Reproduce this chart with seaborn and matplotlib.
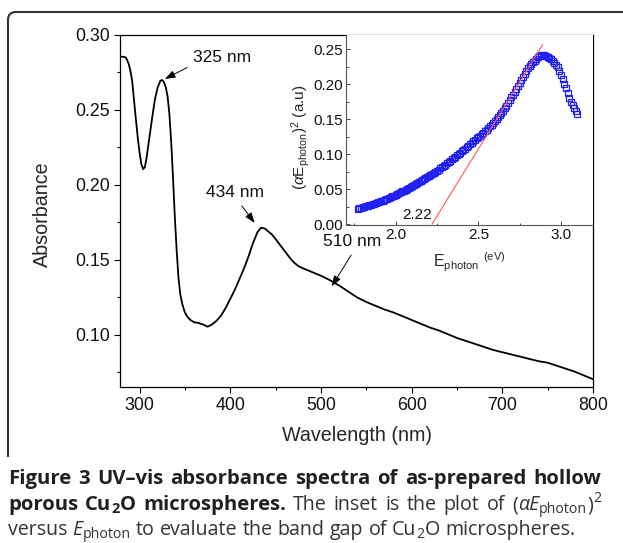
import matplotlib
matplotlib.use("Agg")
import matplotlib.pyplot as plt
import seaborn as sns
from matplotlib.path import Path
from matplotlib.patches import PathPatch
from matplotlib.ticker import MultipleLocator, FormatStrFormatter

# main UV-vis spectrum
wavelength = [278, 282, 285, 288, 290, 292, 295, 298, 300, 302, 304, 306, 308, 311, 314,
              317, 320, 323, 325, 327, 329, 331, 333, 335, 337, 339, 341, 343, 345, 347,
              350, 353, 356, 360, 365, 370, 375, 380, 385, 390, 395, 400, 405, 410, 415,
              420, 425, 430, 434, 438, 442, 446, 450, 455, 460, 465, 470, 475, 480, 490,
              500, 510, 520, 530, 540, 550, 560, 570, 580, 590, 600, 610, 620, 630, 640,
              650, 660, 670, 680, 690, 700, 710, 720, 730, 740, 750, 760, 770, 780, 790, 800]
absorbance = [0.2855, 0.2855, 0.2850, 0.2810, 0.2760, 0.2690, 0.2500, 0.2320, 0.2220, 0.2140,
              0.2105, 0.2120, 0.2190, 0.2320, 0.2450, 0.2570, 0.2650, 0.2695, 0.2700, 0.2685,
              0.2650, 0.2590, 0.2470, 0.2280, 0.2040, 0.1780, 0.1560, 0.1380, 0.1270, 0.1210,
              0.1150, 0.1120, 0.1100, 0.1085, 0.1080, 0.1070, 0.1055, 0.1070, 0.1095, 0.1130,
              0.1180, 0.1240, 0.1300, 0.1370, 0.1440, 0.1520, 0.1610, 0.1685, 0.1715, 0.1710,
              0.1690, 0.1670, 0.1640, 0.1600, 0.1560, 0.1520, 0.1485, 0.1460, 0.1445, 0.1420,
              0.1395, 0.1365, 0.1330, 0.1290, 0.1250, 0.1220, 0.1195, 0.1170, 0.1150, 0.1125,
              0.1100, 0.1075, 0.1050, 0.1030, 0.1005, 0.0980, 0.0960, 0.0940, 0.0920, 0.0900,
              0.0885, 0.0870, 0.0855, 0.0840, 0.0825, 0.0815, 0.0795, 0.0775, 0.0755, 0.0730,
              0.0705]

# inset: (alpha*E)^2 vs photon energy, 1.77 ... 3.10 eV in 0.01 eV steps
e_photon = [round(1.77 + 0.01 * i, 2) for i in range(134)]
ae_squared = [
    0.0220, 0.0225, 0.0230, 0.0238, 0.0245, 0.0252, 0.0260, 0.0268, 0.0276, 0.0284,  # 1.77-1.86
    0.0292, 0.0300, 0.0309, 0.0318, 0.0327, 0.0336, 0.0345, 0.0355, 0.0365, 0.0375,  # 1.87-1.96
    0.0386, 0.0397, 0.0408, 0.0419, 0.0430, 0.0442, 0.0454, 0.0466, 0.0478, 0.0490,  # 1.97-2.06
    0.0503, 0.0516, 0.0529, 0.0542, 0.0555, 0.0569, 0.0583, 0.0597, 0.0611, 0.0625,  # 2.07-2.16
    0.0640, 0.0655, 0.0670, 0.0685, 0.0700, 0.0715, 0.0731, 0.0747, 0.0763, 0.0780,  # 2.17-2.26
    0.0797, 0.0814, 0.0832, 0.0850, 0.0868, 0.0887, 0.0906, 0.0925, 0.0944, 0.0963,  # 2.27-2.36
    0.0982, 0.1001, 0.1020, 0.1040, 0.1060, 0.1080, 0.1100, 0.1120, 0.1140, 0.1161,  # 2.37-2.46
    0.1182, 0.1203, 0.1224, 0.1245, 0.1266, 0.1287, 0.1308, 0.1330, 0.1352, 0.1375,  # 2.47-2.56
    0.1398, 0.1422, 0.1447, 0.1473, 0.1500, 0.1528, 0.1558, 0.1590, 0.1623, 0.1658,  # 2.57-2.66
    0.1695, 0.1733, 0.1772, 0.1812, 0.1853, 0.1895, 0.1938, 0.1981, 0.2024, 0.2067,  # 2.67-2.76
    0.2110, 0.2151, 0.2190, 0.2226, 0.2258, 0.2288, 0.2315, 0.2340, 0.2362, 0.2385,  # 2.77-2.86
    0.2405, 0.2418, 0.2420, 0.2415, 0.2405, 0.2390, 0.2372, 0.2355, 0.2335, 0.2310,  # 2.87-2.96
    0.2280, 0.2240, 0.2195, 0.2135, 0.2075, 0.2010, 0.1945, 0.1875, 0.1805, 0.1750,  # 2.97-3.06
    0.1700, 0.1655, 0.1615, 0.1580,                                                  # 3.07-3.10
]
fit_x = [2.22, 2.89]
fit_y = [0.0, 0.257]

# peak labels: text, arrow tip (x, y), text position (x, y)
peak_labels = ["325 nm", "434 nm", "510 nm"]
peak_tips = [(328, 0.2707), (427, 0.1747), (512, 0.1325)]
peak_text = [(391, 0.2853), (405, 0.1947), (534, 0.1620)]

sns.set_theme(style="white")
plt.rcParams["font.family"] = ["Liberation Sans", "DejaVu Sans"]
plt.rcParams["mathtext.fontset"] = "custom"
plt.rcParams["mathtext.rm"] = "Liberation Sans"
plt.rcParams["mathtext.it"] = "Liberation Sans:italic"
plt.rcParams["mathtext.bf"] = "Liberation Sans:bold"

W, H = 623, 543
fig = plt.figure(figsize=(W / 100, H / 100), dpi=100)


def box(l, t, r, b):
    return [l / W, 1 - b / H, (r - l) / W, (b - t) / H]


# ---- main axes ----
ax = fig.add_axes(box(120, 35, 593, 387))
sns.lineplot(x=wavelength, y=absorbance, color="black", lw=1.3, ax=ax)
ax.set_xlim(278.5, 800)
ax.set_ylim(0.0653, 0.30)
ax.xaxis.set_major_locator(MultipleLocator(100))
ax.xaxis.set_minor_locator(MultipleLocator(50))
ax.yaxis.set_major_locator(MultipleLocator(0.05))
ax.yaxis.set_minor_locator(MultipleLocator(0.025))
ax.yaxis.set_major_formatter(FormatStrFormatter("%.2f"))
ax.tick_params(which="both", direction="out", bottom=True, left=True, color="black",
               width=0.8, labelsize=12.8, labelcolor="#111111")
ax.tick_params(which="major", length=4, pad=3)
ax.tick_params(which="minor", length=2.5)
for s in ax.spines.values():
    s.set_color("black")
    s.set_linewidth(0.9)
ax.set_xlabel("Wavelength (nm)", fontsize=14.2, va="center")
ax.xaxis.set_label_coords(0.5, -0.139)
ax.set_ylabel("Absorbance", fontsize=14.2, va="center")
ax.yaxis.set_label_coords(-0.163, 0.491)

for lab, tip, txt in zip(peak_labels, peak_tips, peak_text):
    rel = (0.0, 0.0) if lab == "325 nm" else (0.55, 0.0)
    ax.annotate(lab, xy=tip, xytext=txt, ha="center", va="center", fontsize=12.5,
                color="#111111",
                arrowprops=dict(arrowstyle="-|>,head_length=0.5,head_width=0.18",
                                color="black", lw=0.7, relpos=rel, shrinkA=2, shrinkB=0))

# ---- inset ----
axin = fig.add_axes(box(346, 35, 593, 225))
axin.set_facecolor("white")
sns.lineplot(x=e_photon, y=ae_squared, marker="s", linestyle="none", markersize=4.2,
             markerfacecolor="none", markeredgecolor="#2020f0", markeredgewidth=0.9,
             ax=axin)
axin.plot(fit_x, fit_y, color="#ff5a5a", lw=0.8)
axin.set_xlim(1.699, 3.194)
axin.set_ylim(-0.0014, 0.2705)
axin.xaxis.set_major_locator(MultipleLocator(0.5))
axin.xaxis.set_minor_locator(MultipleLocator(0.25))
axin.yaxis.set_major_locator(MultipleLocator(0.05))
axin.yaxis.set_minor_locator(MultipleLocator(0.025))
axin.xaxis.set_major_formatter(FormatStrFormatter("%.1f"))
axin.yaxis.set_major_formatter(FormatStrFormatter("%.2f"))
axin.tick_params(which="both", direction="in", bottom=True, left=True, color="#444444",
                 width=0.7, labelsize=11, labelcolor="#111111")
axin.tick_params(which="major", length=3, pad=2)
axin.tick_params(which="minor", length=1.8)
axin.spines["top"].set_visible(False)
axin.spines["right"].set_visible(False)
for k in ("left", "bottom"):
    axin.spines[k].set_color("#555555")
    axin.spines[k].set_linewidth(0.8)
axin.text(2.13, 0.013, "2.22", ha="center", va="center", fontsize=11, color="#111111")
axin.set_ylabel(r"($\alpha$E$_{\rm photon}$)$^{2}$ (a.u)", fontsize=11, va="center")
axin.yaxis.set_label_coords(-0.186, 0.463)
axin.set_xlabel(r"E$_{\rm photon}$ $^{\rm (eV)}$", fontsize=11.5, va="center")
axin.xaxis.set_label_coords(0.498, -0.195)

# ---- rounded frame (open at right and bottom) ----
verts = [(8, 457), (8, 20), (8, 12), (16, 12), (640, 12)]
codes = [Path.MOVETO, Path.LINETO, Path.CURVE3, Path.CURVE3, Path.LINETO]
verts = [(x / W, 1 - y / H) for x, y in verts]
fig.add_artist(PathPatch(Path(verts, codes), transform=fig.transFigure, fill=False,
                         edgecolor="#333333", lw=1.5))

# ---- caption (justified lines, last line ragged) ----
CAP = 14.1
CAP_BOLD = 14.6
CAP_LEFT, CAP_RIGHT = 8.0, 601.0
renderer = fig.canvas.get_renderer()
B = ("bold", "normal")
R = ("normal", "normal")
I = ("normal", "italic")


def run_text(x, y, s, style, scale, dy):
    weight, fstyle = style
    bold = weight == "bold"
    color = "#231f20" if bold else "#333333"
    size = (CAP_BOLD if bold else CAP) * scale
    return fig.text(x / W, 1 - (y + dy) / H, s, fontsize=size, family="Open Sans",
                    fontweight=weight, fontstyle=fstyle, color=color, va="baseline")


def word_width(word):
    w = 0.0
    for s, style, scale, dy in word:
        t = run_text(0, 0, s, style, scale, dy)
        w += t.get_window_extent(renderer=renderer).width
        t.remove()
    return w


sp = run_text(0, 0, "x x", R, 1, 0)
space_w = sp.get_window_extent(renderer=renderer).width
sp.remove()
sp = run_text(0, 0, "xx", R, 1, 0)
space_w -= sp.get_window_extent(renderer=renderer).width
sp.remove()


def caption_line(y_px, words, justify=True):
    widths = [word_width(w) for w in words]
    gap = space_w
    if justify and len(words) > 1:
        gap = (CAP_RIGHT - CAP_LEFT - sum(widths)) / (len(words) - 1)
    x = CAP_LEFT
    for word, ww in zip(words, widths):
        xx = x
        for s, style, scale, dy in word:
            t = run_text(xx, y_px, s, style, scale, dy)
            xx += t.get_window_extent(renderer=renderer).width
        x += ww + gap


def plain(text, style):
    return [[(w, style, 1, 0)] for w in text.split()]


line1 = plain("Figure 3 UV\u2013vis absorbance spectra of as-prepared hollow", B)
line2 = ([[("porous", B, 1, 0)]]
         + [[("Cu", B, 1, 0), ("2", B, 0.72, 3), ("O", B, 1, 0)]]
         + [[("microspheres.", B, 1, 0)]]
         + plain("The inset is the plot of", R)
         + [[("(", R, 1, 0), ("\u03b1E", I, 1, 0), ("photon", R, 0.72, 3), (")", R, 1, 0),
             ("2", R, 0.72, -8)]])
line3 = ([[("versus", R, 1, 0)]]
         + [[("E", I, 1, 0), ("photon", R, 0.72, 3)]]
         + plain("to evaluate the band gap of", R)
         + [[("Cu", R, 1, 0), ("2", R, 0.72, 3), ("O", R, 1, 0)]]
         + [[("microspheres.", R, 1, 0)]])

caption_line(484, line1)
caption_line(510, line2)
caption_line(535, line3, justify=False)

fig.savefig("out.png", dpi=100)
